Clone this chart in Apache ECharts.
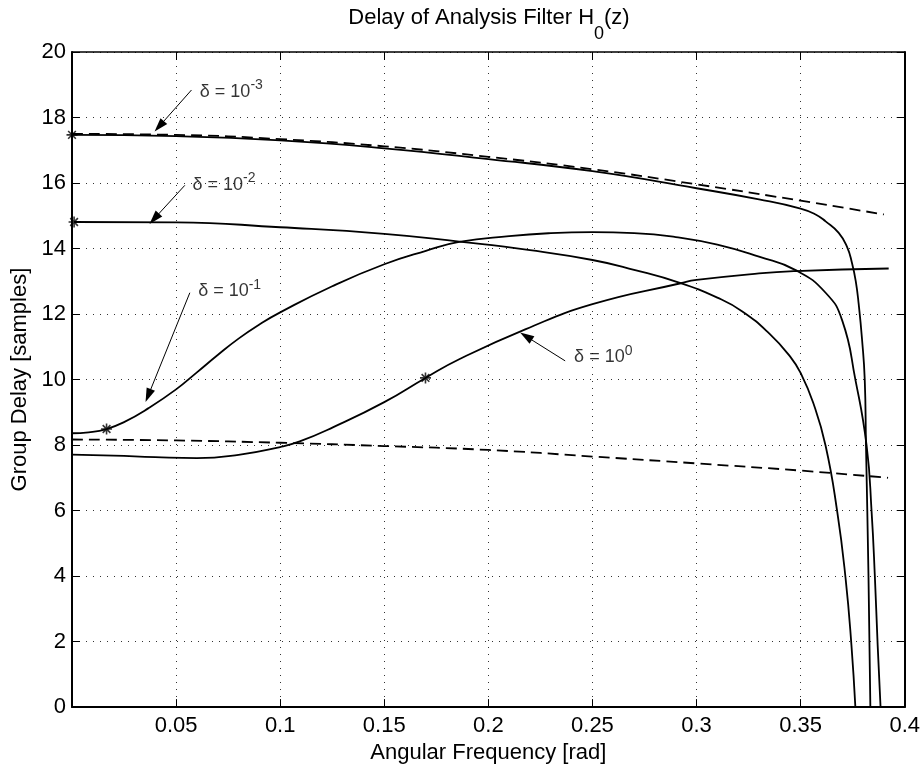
<!DOCTYPE html>
<html><head><meta charset="utf-8">
<script src="https://cdn.jsdelivr.net/npm/echarts@6/dist/echarts.min.js"></script>
<style>html,body{margin:0;padding:0;background:#fff}#c{width:923px;height:769px}</style>
</head><body><div id="c"></div><script>
// ---- data ----
const xRange = [0, 0.4], xStep = 0.05;
const yRange = [0, 20], yStep = 2;

// delta = 1e-3 (solid)
const x_d3 = [0, 0.05, 0.1, 0.15, 0.2, 0.25, 0.3, 0.33, 0.35, 0.3572, 0.362, 0.3683, 0.3723, 0.3747, 0.3765, 0.3779, 0.3795, 0.3808, 0.3814, 0.3826, 0.3835];
const y_d3 = [17.47, 17.43, 17.3, 17.06, 16.73, 16.36, 15.84, 15.5, 15.22, 15.04, 14.83, 14.48, 14.05, 13.55, 13.0, 12.3, 11.23, 10.0, 8.0, 4.0, 0];
// upper dashed reference
const x_ref1 = [0, 0.05, 0.1, 0.15, 0.2, 0.25, 0.3, 0.35, 0.39];
const y_ref1 = [17.5, 17.47, 17.34, 17.12, 16.8, 16.42, 15.96, 15.46, 15.04];
// lower dashed reference
const x_ref2 = [0, 0.05, 0.1, 0.15, 0.2, 0.25, 0.3, 0.35, 0.392];
const y_ref2 = [8.17, 8.14, 8.07, 7.97, 7.85, 7.65, 7.44, 7.22, 7.0];
// delta = 1e-2
const x_d2 = [0.001, 0.05, 0.1, 0.15, 0.186, 0.22, 0.25, 0.27, 0.2916, 0.31, 0.322, 0.335, 0.345, 0.35, 0.356, 0.362, 0.3676, 0.3716, 0.3744, 0.3763];
const y_d2 = [14.81, 14.8, 14.65, 14.45, 14.21, 13.95, 13.65, 13.35, 12.96, 12.5, 12.08, 11.4, 10.7, 10.2, 9.3, 7.98, 5.96, 3.93, 1.9, 0];
// delta = 1e-1
const x_d1 = [0, 0.008, 0.0166, 0.025, 0.0366, 0.05, 0.06, 0.07, 0.08, 0.09, 0.1, 0.125, 0.15, 0.17, 0.186, 0.21, 0.23, 0.25, 0.27, 0.29, 0.31, 0.33, 0.3476, 0.362, 0.37, 0.3763, 0.3817, 0.3841, 0.3857, 0.387, 0.3884];
const y_d1 = [8.36, 8.39, 8.49, 8.7, 9.12, 9.7, 10.22, 10.75, 11.25, 11.68, 12.05, 12.85, 13.52, 13.93, 14.2, 14.38, 14.47, 14.5, 14.47, 14.35, 14.12, 13.75, 13.34, 12.65, 11.8, 10.0, 7.98, 5.96, 3.93, 1.9, 0];
// delta = 1e0
const x_d0 = [0, 0.02, 0.04, 0.06, 0.08, 0.1, 0.1094, 0.1253, 0.15, 0.1698, 0.186, 0.218, 0.25, 0.2924, 0.3, 0.33, 0.3476, 0.3923];
const y_d0 = [7.71, 7.68, 7.63, 7.6, 7.7, 7.94, 8.11, 8.54, 9.31, 10.05, 10.62, 11.54, 12.3, 12.94, 13.04, 13.24, 13.31, 13.39];
// asterisk markers
const x_star = [0, 0.001, 0.0166, 0.1698];
const y_star = [17.47, 14.81, 8.49, 10.05];
// annotations: label anchor (left-middle) and exponent
const lab_x = [0.0614, 0.0579, 0.0606, 0.2412];
const lab_y = [18.78, 15.95, 12.69, 10.68];
const lab_exp = ['-3', '-2', '-1', '0'];
// arrows: from (x1,y1) to tip (x2,y2)
const arr_x1 = [0.0574, 0.0542, 0.0566, 0.2369];
const arr_y1 = [18.84, 15.93, 12.65, 10.57];
const arr_x2 = [0.0419, 0.0395, 0.0366, 0.2181];
const arr_y2 = [17.73, 14.91, 9.51, 11.32];

const zip = (xs, ys) => xs.map((x, i) => [x, ys[i]]);
const FF = "'Liberation Sans', Arial, Helvetica, sans-serif";
const black = '#000';
const FS = 22;

const chart = echarts.init(document.getElementById('c'), null, {renderer: 'canvas'});

const lineSeries = (data, dashed) => ({
  type: 'line', data, showSymbol: false, symbol: 'none', smooth: 0.5,
  lineStyle: {color: black, width: 1.8, type: dashed ? [11, 6] : 'solid'},
  z: 3, silent: true
});

const star = 'path://M5,0L5,10M0,5L10,5M1.5,1.5L8.5,8.5M1.5,8.5L8.5,1.5';

const option = {
  animation: false,
  backgroundColor: '#fff',
  textStyle: {fontFamily: FF, color: black},
  grid: {left: 72, right: 17, top: 52, bottom: 60, containLabel: false},
  graphic: [{
    type: 'text', x: 489, y: -6.2, z: 100,
    style: {
      text: '{m|Delay of Analysis Filter H}{s|0}{m|(z)}',
      align: 'center', verticalAlign: 'top', fill: black,
      rich: {
        m: {fontSize: FS, fontFamily: FF, fill: black, color: black},
        s: {fontSize: 18, fontFamily: FF, fill: black, color: black, padding: [31, 0, 0, 0]}
      }
    }
  }],
  xAxis: [{
    type: 'value', min: xRange[0], max: xRange[1], interval: xStep,
    name: 'Angular Frequency [rad]', nameLocation: 'middle', nameGap: 32,
    nameTextStyle: {fontSize: FS, fontFamily: FF, color: black},
    axisLine: {show: true, onZero: false, lineStyle: {color: black, width: 2}},
    axisTick: {show: true, inside: true, length: 8, lineStyle: {color: black, width: 1}},
    axisLabel: {fontSize: FS, fontFamily: FF, color: black, margin: 8,
      formatter: v => (v === 0 ? '' : String(+v.toFixed(2)))},
    splitLine: {show: true, lineStyle: {color: '#333', width: 1, type: [1, 6]}}
  }, {
    type: 'value', position: 'top', min: xRange[0], max: xRange[1], interval: xStep,
    axisLine: {show: true, onZero: false, lineStyle: {color: black, width: 1.5}},
    axisTick: {show: true, inside: true, length: 8, lineStyle: {color: black, width: 1}},
    axisLabel: {show: false}, splitLine: {show: false}
  }],
  yAxis: [{
    type: 'value', min: yRange[0], max: yRange[1], interval: yStep,
    name: 'Group Delay [samples]', nameLocation: 'middle', nameGap: 40, nameRotate: 90,
    nameTextStyle: {fontSize: FS, fontFamily: FF, color: black},
    axisLine: {show: true, onZero: false, lineStyle: {color: black, width: 2}},
    axisTick: {show: true, inside: true, length: 8, lineStyle: {color: black, width: 1}},
    axisLabel: {fontSize: FS, fontFamily: FF, color: black, margin: 6},
    splitLine: {show: true, lineStyle: {color: '#333', width: 1, type: [1, 6]}}
  }, {
    type: 'value', position: 'right', min: yRange[0], max: yRange[1], interval: yStep,
    axisLine: {show: true, onZero: false, lineStyle: {color: black, width: 2}},
    axisTick: {show: true, inside: true, length: 8, lineStyle: {color: black, width: 1}},
    axisLabel: {show: false}, splitLine: {show: false}
  }],
  series: [
    lineSeries(zip(x_ref1, y_ref1), true),
    lineSeries(zip(x_ref2, y_ref2), true),
    lineSeries(zip(x_d3, y_d3), false),
    lineSeries(zip(x_d2, y_d2), false),
    lineSeries(zip(x_d1, y_d1), false),
    lineSeries(zip(x_d0, y_d0), false),
    {
      type: 'scatter', data: zip(x_star, y_star), symbol: star, symbolSize: 11,
      itemStyle: {color: black, borderColor: black, borderWidth: 1.6}, z: 5, silent: true
    },
    {
      type: 'scatter', symbolSize: 0, silent: true, z: 6,
      data: lab_x.map((x, i) => [x, lab_y[i]]),
      label: {
        show: true, position: 'right', distance: 0,
        formatter: p => '{m|\u03b4 = 10}{s|' + lab_exp[p.dataIndex] + '}',
        rich: {
          m: {fontSize: 18, fontFamily: FF, color: black},
          s: {fontSize: 14, fontFamily: FF, color: black, padding: [0, 0, 13, 0]}
        }
      },
      markLine: {
        silent: true, animation: false,
        symbol: ['none', 'triangle'], symbolSize: [9, 14],
        lineStyle: {color: black, width: 1, type: 'solid'},
        itemStyle: {color: black},
        label: {show: false},
        data: arr_x1.map((x, i) => [{coord: [x, arr_y1[i]]}, {coord: [arr_x2[i], arr_y2[i]]}])
      }
    }
  ]
};
chart.setOption(option);
</script></body></html>
